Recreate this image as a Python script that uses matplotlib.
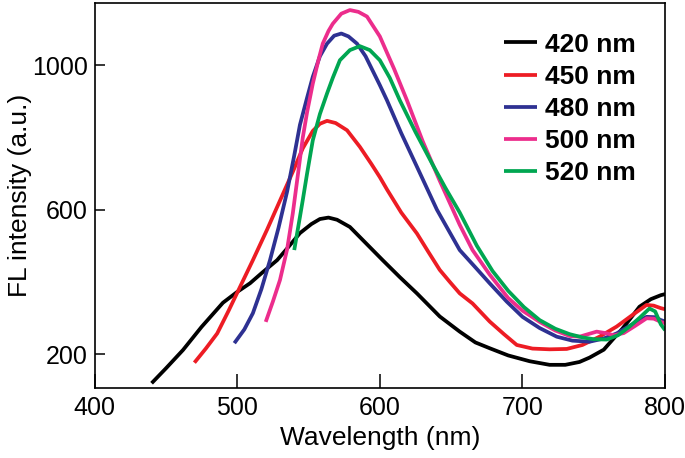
import matplotlib
matplotlib.use("Agg")
import matplotlib.pyplot as plt

plt.rcParams['font.family'] = ['Liberation Sans', 'DejaVu Sans']

# emission spectra, one series per excitation wavelength
wl_420 = [440, 450, 462, 475, 490, 500, 509, 518, 528, 536, 544, 552, 558, 564, 570, 579, 590, 602,
          614, 626, 642, 656, 667, 677, 690, 705, 719, 730, 740, 747, 757, 763, 770, 776, 782, 790, 797, 800]
fl_420 = [119, 160, 211, 275, 342, 372, 396, 427, 460, 497, 535, 560, 574, 578, 572, 552, 508, 460,
          413, 368, 304, 262, 232, 216, 196, 180, 170, 170, 178, 190, 212, 239, 270, 300, 331, 352, 363, 366]

wl_450 = [470, 478, 486, 494, 502, 511, 521, 530, 539, 546, 553, 558, 563, 569, 577, 586, 594, 600,
          605, 615, 626, 634, 642, 649, 656, 665, 677, 687, 696, 707, 719, 731, 742, 754, 766, 776,
          787, 792, 797, 800]
fl_450 = [176, 215, 257, 320, 386, 460, 545, 625, 705, 770, 818, 838, 846, 840, 820, 774, 727, 690,
          656, 592, 534, 483, 433, 400, 368, 340, 290, 255, 225, 215, 213, 214, 225, 248, 276, 305,
          336, 334, 327, 324]

wl_480 = [498, 505, 511, 517, 523, 529, 535, 540, 544, 549, 553, 558, 563, 568, 573, 578, 584, 590,
          600, 605, 615, 626, 640, 656, 667, 677, 689, 700, 712, 724, 735, 747, 757, 766, 776, 787,
          793, 797, 800]
fl_480 = [230, 268, 313, 380, 460, 550, 650, 750, 835, 910, 968, 1025, 1060, 1082, 1088, 1080, 1060, 1025,
          945, 903, 812, 719, 600, 488, 440, 396, 345, 303, 272, 248, 237, 234, 243, 257, 280, 303,
          302, 294, 290]

wl_500 = [520, 525, 530, 535, 539, 542, 546, 549, 553, 557, 560, 564, 567, 573, 579, 585, 591, 600,
          610, 619, 630, 642, 656, 665, 677, 690, 700, 712, 723, 733, 740, 746, 752, 758, 764, 771,
          779, 787, 792, 797, 800]
fl_500 = [289, 345, 405, 490, 590, 680, 800, 870, 949, 1015, 1060, 1095, 1115, 1143, 1153, 1148, 1135, 1080,
          990, 903, 790, 680, 558, 488, 420, 355, 320, 289, 265, 250, 248, 255, 262, 258, 252, 258,
          278, 299, 298, 289, 285]

wl_520 = [540, 544, 546, 549, 553, 558, 563, 567, 572, 579, 586, 593, 600, 607, 614, 625, 637, 646,
          656, 668, 679, 690, 701, 712, 723, 733, 742, 750, 759, 767, 775, 782, 789, 793, 797, 800]
fl_520 = [488, 580, 627, 700, 792, 865, 922, 965, 1014, 1042, 1053, 1042, 1014, 965, 903, 815, 725, 660,
          592, 500, 430, 375, 330, 294, 270, 255, 246, 241, 240, 252, 276, 300, 326, 318, 282, 266]

labels = ['420 nm', '450 nm', '480 nm', '500 nm', '520 nm']
colors = ['#000000', '#ED1C24', '#2E3192', '#EC2D8C', '#00A651']

fig = plt.figure(figsize=(6.85, 4.58), dpi=100)
ax = fig.add_axes([0.138, 0.153, 0.833, 0.840])

series = [(wl_420, fl_420), (wl_450, fl_450), (wl_480, fl_480), (wl_500, fl_500), (wl_520, fl_520)]
for (x, y), lab, c in zip(series, labels, colors):
    ax.plot(x, y, color=c, lw=2.7, label=lab, solid_capstyle='butt', solid_joinstyle='round')

ax.set_xlim(400, 800)
ax.set_ylim(106, 1172)
ax.set_xticks([400, 500, 600, 700, 800])
ax.set_yticks([200, 600, 1000])
ax.tick_params(direction='in', length=7, width=1.1, labelsize=18, pad=5)
ax.tick_params(axis='x', length=10, pad=6)
for s in ax.spines.values():
    s.set_linewidth(1.2)

ax.set_xlabel('Wavelength (nm)', fontsize=19, labelpad=4)
ax.set_ylabel('FL intensity (a.u.)', fontsize=19, labelpad=0)

leg = ax.legend(loc='upper right', bbox_to_anchor=(0.99, 0.985), frameon=False,
                handlelength=1.25, handletextpad=0.3, labelspacing=0.31,
                prop={'weight': 'bold', 'size': 19})

fig.savefig('out.png', dpi=100)
